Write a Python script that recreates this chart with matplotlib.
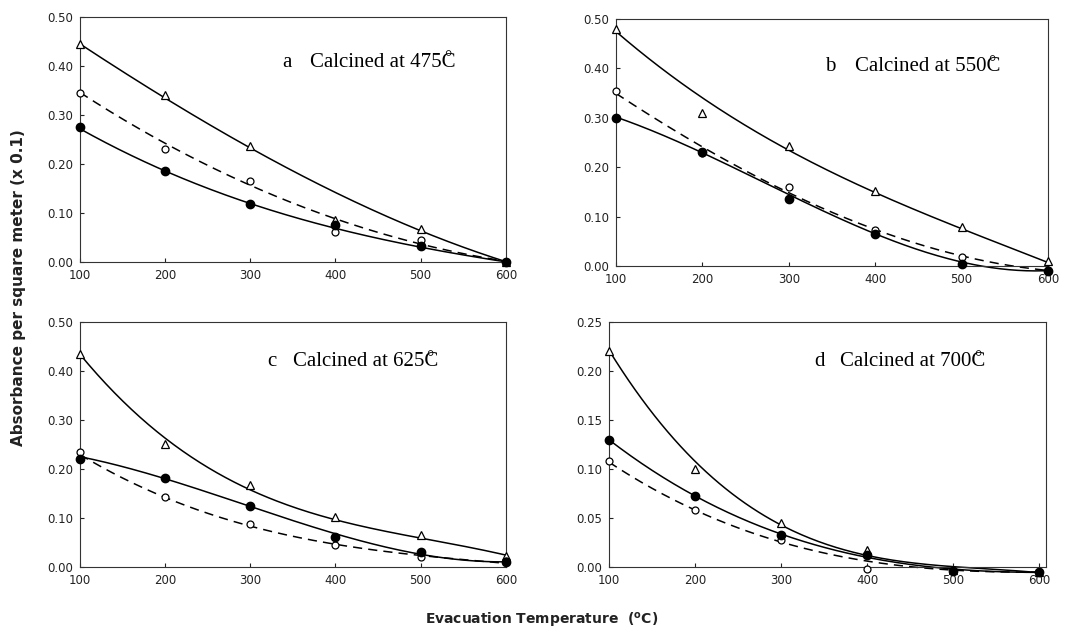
import numpy as np
import matplotlib.pyplot as plt

temps = [100, 200, 300, 400, 500, 600]

# panel labels and calcination temperatures
panels = ["a", "b", "c", "d"]
calcined = ["475", "550", "625", "700"]

# measured points (triangles, open circles, filled circles)
tri_a = [0.445, 0.340, 0.237, 0.085, 0.067, 0.000]
open_a = [0.345, 0.230, 0.165, 0.060, 0.045, 0.000]
fill_a = [0.275, 0.185, 0.118, 0.075, 0.033, 0.000]
tri_b = [0.480, 0.310, 0.243, 0.152, 0.080, 0.010]
open_b = [0.355, 0.230, 0.160, 0.073, 0.018, -0.008]
fill_b = [0.300, 0.232, 0.137, 0.065, 0.005, -0.010]
tri_c = [0.435, 0.250, 0.168, 0.103, 0.066, 0.022]
open_c = [0.235, 0.142, 0.088, 0.044, 0.020, 0.012]
fill_c = [0.220, 0.182, 0.125, 0.062, 0.030, 0.010]
tri_d = [0.220, 0.100, 0.045, 0.017, -0.003, -0.005]
open_d = [0.108, 0.058, 0.028, -0.002, -0.004, -0.005]
fill_d = [0.130, 0.072, 0.033, 0.012, -0.004, -0.005]

# fitted curves read at the same temperatures
tri_fit_a = [0.445, 0.335, 0.233, 0.140, 0.065, 0.000]
open_fit_a = [0.345, 0.245, 0.155, 0.085, 0.040, 0.000]
fill_fit_a = [0.272, 0.185, 0.120, 0.068, 0.030, 0.000]
tri_fit_b = [0.475, 0.340, 0.235, 0.150, 0.075, 0.008]
open_fit_b = [0.350, 0.240, 0.150, 0.075, 0.020, -0.008]
fill_fit_b = [0.300, 0.235, 0.140, 0.065, 0.012, -0.010]
tri_fit_c = [0.435, 0.260, 0.160, 0.097, 0.057, 0.025]
open_fit_c = [0.230, 0.140, 0.085, 0.047, 0.022, 0.008]
fill_fit_c = [0.225, 0.180, 0.125, 0.065, 0.028, 0.010]
tri_fit_d = [0.222, 0.105, 0.045, 0.013, -0.002, -0.005]
open_fit_d = [0.107, 0.058, 0.025, 0.007, -0.004, -0.005]
fill_fit_d = [0.130, 0.072, 0.033, 0.012, -0.004, -0.005]

tris = [tri_a, tri_b, tri_c, tri_d]
opens = [open_a, open_b, open_c, open_d]
fills = [fill_a, fill_b, fill_c, fill_d]
tri_fits = [tri_fit_a, tri_fit_b, tri_fit_c, tri_fit_d]
open_fits = [open_fit_a, open_fit_b, open_fit_c, open_fit_d]
fill_fits = [fill_fit_a, fill_fit_b, fill_fit_c, fill_fit_d]

ymaxes = [0.5, 0.5, 0.5, 0.25]
ysteps = [0.1, 0.1, 0.1, 0.05]
xmaxes = [600, 600, 600, 608]

# axes rectangles in figure fraction
rects = [[0.0742, 0.587, 0.395, 0.386],
         [0.5714, 0.580, 0.4007, 0.390],
         [0.0742, 0.1057, 0.395, 0.3864],
         [0.565, 0.1057, 0.4054, 0.3864]]
letter_pos = [(0.476, 0.816), (0.484, 0.806), (0.439, 0.837), (0.469, 0.837)]
text_x = [0.540, 0.553, 0.500, 0.529]

fig = plt.figure(figsize=(10.78, 6.34), dpi=100)

def smooth(x, y):
    c = np.polyfit(x, y, 3)
    xs = np.linspace(x[0], x[-1], 200)
    return xs, np.polyval(c, xs)

for i in range(4):
    ax = fig.add_axes(rects[i])
    x = np.array(temps, dtype=float)
    for fit, ls in [(tri_fits[i], "-"), (open_fits[i], (0, (6, 4))), (fill_fits[i], "-")]:
        xs, ys = smooth(x, np.array(fit))
        ax.plot(xs, ys, color="black", lw=1.1, linestyle=ls, clip_on=False)
    ax.plot(x, tris[i], linestyle="none", marker="^", ms=6, mfc="white", mec="black", mew=0.9, clip_on=False, zorder=3)
    ax.plot(x, opens[i], linestyle="none", marker="o", ms=5, mfc="white", mec="black", mew=0.9, clip_on=False, zorder=3)
    ax.plot(x, fills[i], linestyle="none", marker="o", ms=6, mfc="black", mec="black", clip_on=False, zorder=4)

    ax.set_xlim(100, xmaxes[i])
    ax.set_ylim(0, ymaxes[i])
    ax.set_xticks(temps)
    yt = np.arange(0, ymaxes[i] + 1e-9, ysteps[i])
    ax.set_yticks(yt)
    ax.set_yticklabels(["%.2f" % v for v in yt])
    ax.tick_params(direction="in", length=3, width=0.8, labelsize=8.5, colors="#222222", pad=5)
    for s in ax.spines.values():
        s.set_linewidth(0.8)
        s.set_color("#333333")

    lx, ly = letter_pos[i]
    ax.text(lx, ly, panels[i], transform=ax.transAxes, family="Liberation Serif",
            fontsize=15, ha="left", va="center")
    t = ax.text(text_x[i], ly, "Calcined at " + calcined[i] + "C", transform=ax.transAxes,
                family="Liberation Serif", fontsize=15, ha="left", va="center")
    # degree ring sits over the C, as in the original
    ax.annotate("\u00b0", xy=(0.945, 0.68), xycoords=t, family="Liberation Serif",
                fontsize=13, ha="center", va="center")

fig.text(0.017, 0.547, "Absorbance per square meter (x 0.1)", rotation=90,
         fontsize=11, fontweight="bold", ha="center", va="center", color="#222222")
fig.text(0.502, 0.022, r"Evacuation Temperature  ($\mathbf{^{o}}$C)",
         fontsize=10, fontweight="bold", ha="center", va="center", color="#222222")

plt.savefig("out.png", dpi=100)
